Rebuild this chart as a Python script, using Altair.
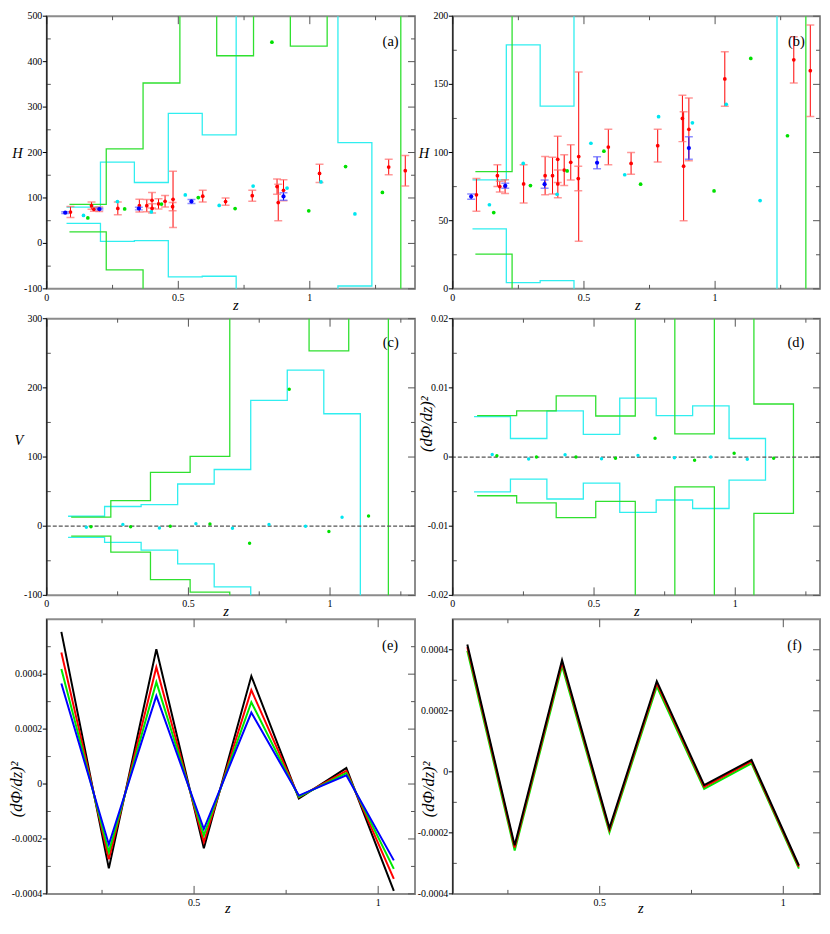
import altair as alt
import pandas as pd

# ---------------- data ----------------
z_obs = [0.09, 0.17, 0.1791, 0.1993, 0.27, 0.3519, 0.3802, 0.4, 0.4004, 0.4247,
         0.4497, 0.4783, 0.48, 0.5929, 0.6797, 0.7812, 0.8754, 0.88, 0.9, 1.037,
         1.3, 1.363]
H_obs = [69, 83, 75, 75, 77, 83, 83, 95, 77, 87.1, 92.8, 80.9, 97, 104, 92, 105,
         125, 90, 117, 154, 168, 160]
err_obs = [12, 8, 4, 5, 14, 14, 13.5, 17, 10.2, 11.2, 12.9, 9, 62, 13, 8, 12, 17,
           40, 23, 20, 17, 33.6]

z_blue = [0.07, 0.2, 0.35, 0.55, 0.9]
H_blue = [67.7, 75.6, 76.8, 92.5, 103.3]
err_blue = [1.9, 1.8, 3.0, 4.4, 8.3]

cyan_edges = [0.075, 0.204, 0.333, 0.462, 0.591, 0.720, 0.849, 0.978, 1.107, 1.236]
green_edges = [0.086, 0.226, 0.366, 0.506, 0.646, 0.786, 0.926, 1.066, 1.206, 1.346]
cyan_z = [0.1395, 0.2685, 0.3975, 0.5265, 0.6555, 0.7845, 0.9135, 1.0425, 1.1715]
green_z = [0.156, 0.296, 0.436, 0.576, 0.716, 0.856, 0.996, 1.136, 1.276]

H_cyan = [61.7, 92, 69.4, 106.8, 83.7, 126.3, 121.8, 135.4, 64.8]
H_green = [56, 75.8, 86.5, 101, 76.8, 442.8, 71.8, 169, 112.3]
H_cyan_up = [80, 179, 134, 286, 239, 1000, 1000, 1000, 222]
H_cyan_lo = [44, 4.5, 6, -73.7, -72.3, -1000, -1000, -1000, -93.7]
H_green_up = [86, 208, 353, 1000, 413, 1000, 434, 1000, 1000]
H_green_lo = [25.5, -58, -1000, -1000, -1000, -1000, -1000, -1000, -1000]

V_cyan = [-1.6, 2.6, -2.6, 3.5, -3.1, 2.6, -0.2, 13]
V_green = [-0.7, -0.7, -0.2, 3.1, -24.7, 197.9, -7.8, 14.8]
V_cyan_up = [14.4, 28.5, 31.3, 61, 82, 182, 225.6, 162.6]
V_cyan_lo = [-16.2, -23.3, -34.6, -54.4, -87.8, -1000, -1000, -1000]
V_green_up = [13, 37, 77.9, 101, 1000, 1000, 253.4, 1000]
V_green_lo = [-14.4, -37.4, -77.4, -95.3, -1000, -1000, -1000, -1000]

D_cyan = [0.00038, -0.00028, 0.00033, -0.00024, 0.00024, -0.00009, 0.0, -0.00033]
D_green = [0.00019, 0.0, 0.0, -0.00019, 0.00273, -0.00047, 0.00056, -0.00019]
D_cyan_up = [0.00584, 0.00268, 0.00668, 0.00329, 0.00852, 0.00598, 0.00739, 0.00268]
D_cyan_lo = [-0.00504, -0.0032, -0.00607, -0.00376, -0.008, -0.00621, -0.00744, -0.00334]
D_green_up = [0.00598, 0.00668, 0.00885, 0.00593, 0.1, 0.00335, 0.1, 0.00767]
D_green_lo = [-0.0056, -0.00664, -0.00875, -0.0064, -0.1, -0.00433, -0.1, -0.00814]

e_black = [0.000554, -0.000307, 0.000491, -0.000234, 0.000393, -0.000053, 0.000058, -0.000389]
e_red = [0.000479, -0.000274, 0.000425, -0.000211, 0.000342, -0.000048, 0.000048, -0.000345]
e_green = [0.000419, -0.000248, 0.000371, -0.000187, 0.000298, -0.000046, 0.000040, -0.000309]
e_blue = [0.000366, -0.000220, 0.000321, -0.000164, 0.000260, -0.000042, 0.000032, -0.000278]
f_black = [0.000417, -0.000241, 0.000366, -0.000184, 0.000297, -0.000044, 0.000039, -0.000307]
f_red = [0.000409, -0.000248, 0.000358, -0.000190, 0.000290, -0.000049, 0.000034, -0.000311]
f_green = [0.000397, -0.000258, 0.000347, -0.000198, 0.000280, -0.000056, 0.000028, -0.000317]

# tick values (major ones are labelled)
x_lab_ab = [0, 0.5, 1]
x_min_ab = [0.25, 0.75, 1.25]
x_lab_ef = [0.5, 1]
x_min_ef = [0.25, 0.75]
y_lab_a = [-100, 0, 100, 200, 300, 400, 500]
y_min_a = [-50, 50, 150, 250, 350, 450]
y_lab_b = [0, 50, 100, 150, 200]
y_min_b = [25, 75, 125, 175]
y_lab_c = [-100, 0, 100, 200, 300]
y_min_c = [-50, 50, 150, 250]
y_lab_d = [-0.02, -0.01, 0, 0.01, 0.02]
y_min_d = [-0.015, -0.005, 0.005, 0.015]
y_lab_e = [-0.0004, -0.0002, 0, 0.0002, 0.0004]
y_min_e = [-0.0003, -0.0001, 0.0001, 0.0003, 0.0005]
y_min_f = [-0.0003, -0.0001, 0.0001, 0.0003]
zero_line = [0]

tags = ["(a)", "(b)", "(c)", "(d)", "(e)", "(f)"]
x_title = "z"
y_titles = ["H", "H", "V", "(dΦ/dz)²", "(dΦ/dz)²", "(dΦ/dz)²"]

FONT = "Liberation Serif"
LFS = 10
TFS = 14.5
RFS = 16.5
FRAME = "#8c8c8c"
TICK = "#555555"
CYAN_L = "#30eef0"
CYAN_P = "#00e6f0"
GREEN_L = "#2fe02f"
GREEN_P = "#00e000"
RED = "#ff0000"
RED_CAP = "#ff6e6e"
BLUE = "#0000ff"
BLUE_CAP = "#6060ff"


def band_df(edges, up, lo):
    zs, vs = [], []
    n = len(up)
    for i in range(n):
        zs += [edges[i], edges[i + 1]]
        vs += [up[i], up[i]]
    for i in range(n - 1, -1, -1):
        zs += [edges[i + 1], edges[i]]
        vs += [lo[i], lo[i]]
    return pd.DataFrame({"z": zs, "v": vs, "o": list(range(len(zs)))})


def band_layer(edges, up, lo, color, xs, ys):
    return alt.Chart(band_df(edges, up, lo)).mark_line(
        clip=True, color=color, strokeWidth=1.3).encode(
        x=alt.X("z:Q", scale=xs, axis=None),
        y=alt.Y("v:Q", scale=ys, axis=None),
        order=alt.Order("o:Q"))


def pts_layer(z, v, color, size, xs, ys):
    return alt.Chart(pd.DataFrame({"z": z, "v": v})).mark_circle(
        clip=True, color=color, size=size, opacity=1).encode(
        x=alt.X("z:Q", scale=xs, axis=None),
        y=alt.Y("v:Q", scale=ys, axis=None))


def err_layers(z, v, e, color, capcolor, size, xs, ys):
    df = pd.DataFrame({"z": z, "v": v, "e": e})
    df["lo"] = df["v"] - df["e"]
    df["hi"] = df["v"] + df["e"]
    caps = pd.DataFrame({"z": list(df["z"]) * 2, "c": list(df["lo"]) + list(df["hi"])})
    bar = alt.Chart(df).mark_rule(clip=True, color=color, strokeWidth=1).encode(
        x=alt.X("z:Q", scale=xs, axis=None),
        y=alt.Y("lo:Q", scale=ys, axis=None), y2="hi:Q")
    cap = alt.Chart(caps).mark_tick(clip=True, orient="horizontal", size=8,
                                    thickness=1.5, color=capcolor).encode(
        x=alt.X("z:Q", scale=xs, axis=None),
        y=alt.Y("c:Q", scale=ys, axis=None))
    return [bar, cap, pts_layer(z, v, color, size, xs, ys)]


def line_layer(z, v, color, xs, ys):
    return alt.Chart(pd.DataFrame({"z": z, "v": v})).mark_line(
        clip=True, color=color, strokeWidth=2).encode(
        x=alt.X("z:Q", scale=xs, axis=None),
        y=alt.Y("v:Q", scale=ys, axis=None))


def zero_layer(xs, ys):
    return alt.Chart(pd.DataFrame({"v": zero_line})).mark_rule(
        color="#555555", strokeWidth=1.3, strokeDash=[4, 2]).encode(
        y=alt.Y("v:Q", scale=ys, axis=None))


def text_layer(label, x, y, size, italic=False, angle=0):
    return alt.Chart(pd.DataFrame({"s": [label]})).mark_text(
        font=FONT, fontSize=size, fontStyle="italic" if italic else "normal",
        angle=angle, align="center", baseline="middle", color="black").encode(
        text="s:N", x=alt.value(x), y=alt.value(y))


def tick_layers(W, H, xs, ys, xlab, xmin, ylab, ymin):
    dxM = pd.DataFrame({"t": xlab, "s": [str(v) for v in xlab]})
    dxm = pd.DataFrame({"t": xmin})
    dyM = pd.DataFrame({"t": ylab, "s": [str(v) for v in ylab]})
    dym = pd.DataFrame({"t": ymin})
    r = dict(color=TICK, strokeWidth=1)
    X = lambda: alt.X("t:Q", scale=xs, axis=None)
    Y = lambda: alt.Y("t:Q", scale=ys, axis=None)
    return [
        alt.Chart(dxM).mark_rule(**r).encode(x=X(), y=alt.value(H - 8), y2=alt.value(H)),
        alt.Chart(dxM).mark_rule(**r).encode(x=X(), y=alt.value(0), y2=alt.value(8)),
        alt.Chart(dxm).mark_rule(**r).encode(x=X(), y=alt.value(H - 4), y2=alt.value(H)),
        alt.Chart(dxm).mark_rule(**r).encode(x=X(), y=alt.value(0), y2=alt.value(4)),
        alt.Chart(dyM).mark_rule(**r).encode(y=Y(), x=alt.value(W - 7), x2=alt.value(W)),
        alt.Chart(dym).mark_rule(**r).encode(y=Y(), x=alt.value(W - 4), x2=alt.value(W)),
        alt.Chart(dym).mark_rule(**r).encode(y=Y(), x=alt.value(0), x2=alt.value(4)),
        alt.Chart(dyM).mark_rule(color="black", strokeWidth=1).encode(
            y=Y(), x=alt.value(-4), x2=alt.value(0)),
        alt.Chart(pd.DataFrame({"t": [ylab[0]]})).mark_rule(color="black", strokeWidth=1).encode(
            x=alt.value(0), y=alt.value(0), y2=alt.value(H)),
        alt.Chart(dxM).mark_text(font=FONT, fontSize=LFS, baseline="top", align="center",
                                 color="black").encode(x=X(), y=alt.value(H + 4), text="s:N"),
        alt.Chart(dyM).mark_text(font=FONT, fontSize=LFS, baseline="middle", align="right",
                                 color="black").encode(y=Y(), x=alt.value(-4.5), text="s:N"),
    ]


def panel(W, H, xdom, ydom, xlab, xmin, ylab, ymin, data_fn, texts):
    xs = alt.Scale(domain=xdom, nice=False, zero=False)
    ys = alt.Scale(domain=ydom, nice=False, zero=False)
    layers = data_fn(xs, ys) + tick_layers(W, H, xs, ys, xlab, xmin, ylab, ymin)
    layers += [text_layer(*t) for t in texts]
    return alt.layer(*layers).properties(
        width=W, height=H,
        view=alt.ViewBackground(stroke=FRAME, strokeWidth=2))


def H_data(xs, ys):
    out = [band_layer(cyan_edges, H_cyan_up, H_cyan_lo, CYAN_L, xs, ys),
           band_layer(green_edges, H_green_up, H_green_lo, GREEN_L, xs, ys)]
    out += err_layers(z_obs, H_obs, err_obs, RED, RED_CAP, 14, xs, ys)
    out += err_layers(z_blue, H_blue, err_blue, BLUE, BLUE_CAP, 18, xs, ys)
    out += [pts_layer(cyan_z, H_cyan, CYAN_P, 14, xs, ys),
            pts_layer(green_z, H_green, GREEN_P, 14, xs, ys)]
    return out


def V_data(xs, ys):
    return [band_layer(cyan_edges[:9], V_cyan_up, V_cyan_lo, CYAN_L, xs, ys),
            band_layer(green_edges[:9], V_green_up, V_green_lo, GREEN_L, xs, ys),
            zero_layer(xs, ys),
            pts_layer(cyan_z[:8], V_cyan, CYAN_P, 12, xs, ys),
            pts_layer(green_z[:8], V_green, GREEN_P, 12, xs, ys)]


def D_data(xs, ys):
    return [band_layer(cyan_edges[:9], D_cyan_up, D_cyan_lo, CYAN_L, xs, ys),
            band_layer(green_edges[:9], D_green_up, D_green_lo, GREEN_L, xs, ys),
            zero_layer(xs, ys),
            pts_layer(cyan_z[:8], D_cyan, CYAN_P, 12, xs, ys),
            pts_layer(green_z[:8], D_green, GREEN_P, 12, xs, ys)]


def E_data(xs, ys):
    return [line_layer(cyan_z[:8], e_black, "black", xs, ys),
            line_layer(cyan_z[:8], e_red, RED, xs, ys),
            line_layer(cyan_z[:8], e_green, "#00e800", xs, ys),
            line_layer(cyan_z[:8], e_blue, BLUE, xs, ys)]


def F_data(xs, ys):
    return [line_layer(cyan_z[:8], f_green, "#00e800", xs, ys),
            line_layer(cyan_z[:8], f_red, RED, xs, ys),
            line_layer(cyan_z[:8], f_black, "black", xs, ys)]


# grid: column widths 35 | 370 | 38 | 369 (total 812, fits the 814px body)
WL, WR = 370, 369
HA, HC, HE = 274, 278, 276
TOP, GAP1, GAP2 = 5, 30, 24

pa = panel(WL, HA, [0, 1.4], [-100, 500], x_lab_ab, x_min_ab, y_lab_a, y_min_a, H_data,
           [(y_titles[0], -29.5, 138, TFS, True), (x_title, 190, HA + 17, TFS, True),
            (tags[0], 345.5, 25.5, TFS)])
pb = panel(WR, HA, [0, 1.4], [0, 200], x_lab_ab, x_min_ab, y_lab_b, y_min_b, H_data,
           [(y_titles[1], -29, 138, TFS, True), (x_title, 186, HA + 17, TFS, True),
            (tags[1], 345.3, 25.5, TFS)])
pc = panel(WL, HC, [0, 1.3], [-100, 300], x_lab_ab, x_min_ab, y_lab_c, y_min_c, V_data,
           [(y_titles[2], -28, 123, TFS, True), (x_title, 180, HC + 17, TFS, True),
            (tags[2], 345.7, 24.6, TFS)])
pd_ = panel(WR, HC, [0, 1.3], [-0.02, 0.02], x_lab_ab, x_min_ab, y_lab_d, y_min_d, D_data,
            [(y_titles[3], -25.7, 106, RFS, True, 270), (x_title, 185, HC + 17, TFS, True),
             (tags[3], 344.7, 24.6, TFS)])
pe = panel(WL, HE, [0.1, 1.1], [-0.0004, 0.0006], x_lab_ef, x_min_ef, y_lab_e, y_min_e, E_data,
           [(y_titles[4], -29.5, 171, RFS, True, 270), (x_title, 182, HE + 15, TFS, True),
            (tags[4], 345, 27.3, TFS)])
pf = panel(WR, HE, [0.1, 1.1], [-0.0004, 0.0005], x_lab_ef, x_min_ef, y_lab_e, y_min_f, F_data,
           [(y_titles[5], -24, 171, RFS, True, 270), (x_title, 189, HE + 15, TFS, True),
            (tags[5], 343.4, 27.3, TFS)])


def spacer(w, h):
    return alt.Chart(pd.DataFrame({"s": [0]})).mark_point(opacity=0).properties(
        width=w, height=h, view=alt.ViewBackground(stroke="transparent"))


items = [spacer(35, TOP), spacer(1, TOP), spacer(38, TOP), spacer(1, TOP),
         spacer(35, 1), pa, spacer(38, 1), pb,
         spacer(1, GAP1), spacer(1, GAP1), spacer(1, GAP1), spacer(1, GAP1),
         spacer(35, 1), pc, spacer(38, 1), pd_,
         spacer(1, GAP2), spacer(1, GAP2), spacer(1, GAP2), spacer(1, GAP2),
         spacer(35, 1), pe, spacer(38, 1), pf]

chart = alt.concat(*items, columns=4, spacing=0, align="each", bounds="flush").properties(
    padding=0).configure_view(stroke="transparent")

chart.save("out.html", embed_options={"renderer": "svg", "actions": False})
